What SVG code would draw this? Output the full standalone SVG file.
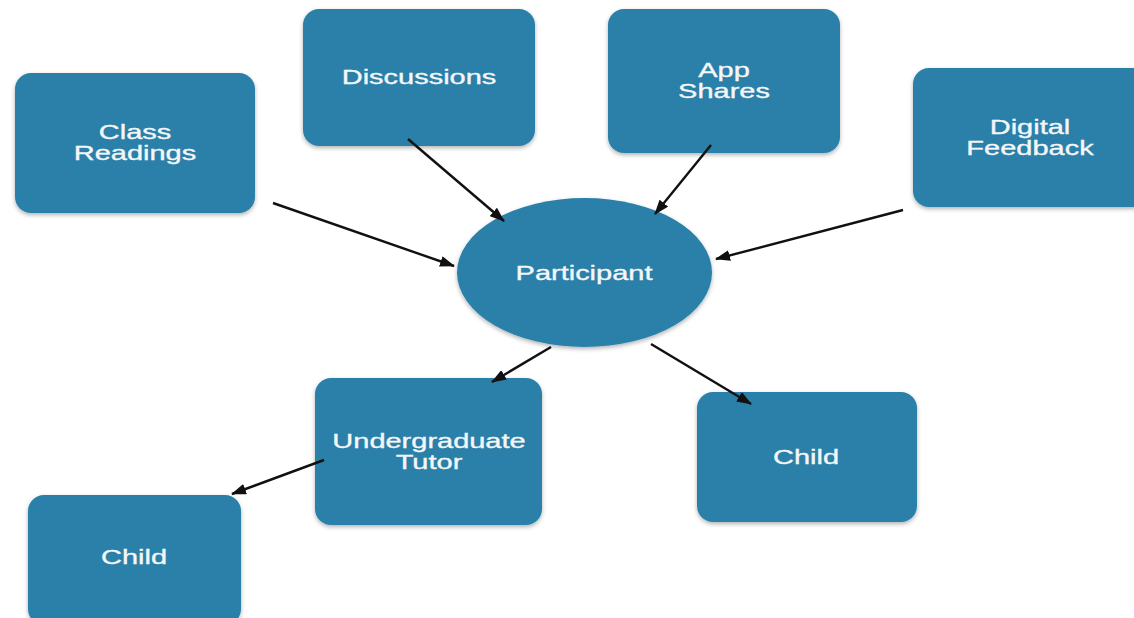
<svg xmlns="http://www.w3.org/2000/svg" width="1134" height="618" viewBox="0 0 1134 618">
<style>
.box{fill:#2a80a9;filter:url(#sh)}
.lbl{font-family:"Liberation Sans",Arial,sans-serif;font-size:20px;fill:#f4f6f7;stroke:#f4f6f7;stroke-width:0.35;text-anchor:middle}
.cn{stroke:#111;stroke-width:2.4;fill:none;marker-end:url(#ah)}
</style>
<defs>
<filter id="sh" x="-10%" y="-10%" width="120%" height="125%">
<feDropShadow dx="0" dy="2" stdDeviation="2" flood-color="#000" flood-opacity="0.3"/>
</filter>
<marker id="ah" viewBox="0 0 15 11" refX="14" refY="5.5" markerWidth="15" markerHeight="11" markerUnits="userSpaceOnUse" orient="auto">
<path d="M0,0 L15,5.5 L0,11 Z" fill="#111"/>
</marker>
</defs>
<rect width="1134" height="618" fill="#fff"/>
<g id="class-readings">
<rect class="box" x="15" y="73" width="240" height="140" rx="16"/>
<text class="lbl" transform="translate(135,0) scale(1.45,1)" x="0" y="139">Class</text>
<text class="lbl" transform="translate(135,0) scale(1.45,1)" x="0" y="160">Readings</text>
</g>
<g id="discussions">
<rect class="box" x="303" y="9" width="232" height="137" rx="16"/>
<text class="lbl" transform="translate(419,0) scale(1.45,1)" x="0" y="84">Discussions</text>
</g>
<g id="app-shares">
<rect class="box" x="608" y="9" width="232" height="144" rx="16"/>
<text class="lbl" transform="translate(724,0) scale(1.45,1)" x="0" y="77">App</text>
<text class="lbl" transform="translate(724,0) scale(1.45,1)" x="0" y="98">Shares</text>
</g>
<g id="digital-feedback">
<rect class="box" x="913" y="68" width="240" height="139" rx="16"/>
<text class="lbl" transform="translate(1030,0) scale(1.45,1)" x="0" y="134">Digital</text>
<text class="lbl" transform="translate(1030,0) scale(1.45,1)" x="0" y="155">Feedback</text>
</g>
<g id="participant">
<ellipse class="box" cx="584.5" cy="272.5" rx="127.5" ry="74.5"/>
<text class="lbl" transform="translate(584,0) scale(1.45,1)" x="0" y="280">Participant</text>
</g>
<g id="undergraduate-tutor">
<rect class="box" x="315" y="378" width="227" height="147" rx="16"/>
<text class="lbl" transform="translate(429,0) scale(1.45,1)" x="0" y="448">Undergraduate</text>
<text class="lbl" transform="translate(429,0) scale(1.45,1)" x="0" y="469">Tutor</text>
</g>
<g id="child-right">
<rect class="box" x="697" y="392" width="220" height="130" rx="16"/>
<text class="lbl" transform="translate(806,0) scale(1.45,1)" x="0" y="464">Child</text>
</g>
<g id="child-left">
<rect class="box" x="28" y="495" width="213" height="130" rx="16"/>
<text class="lbl" transform="translate(134,0) scale(1.45,1)" x="0" y="564">Child</text>
</g>
<g id="connectors">
<line class="cn" x1="273" y1="203" x2="454" y2="266"/>
<line class="cn" x1="408" y1="139" x2="504" y2="221"/>
<line class="cn" x1="711" y1="145" x2="655" y2="214"/>
<line class="cn" x1="903" y1="210" x2="716" y2="259"/>
<line class="cn" x1="551" y1="347" x2="492" y2="382"/>
<line class="cn" x1="651" y1="344" x2="751" y2="404"/>
<line class="cn" x1="324" y1="460" x2="232" y2="494"/>
</g>
</svg>
